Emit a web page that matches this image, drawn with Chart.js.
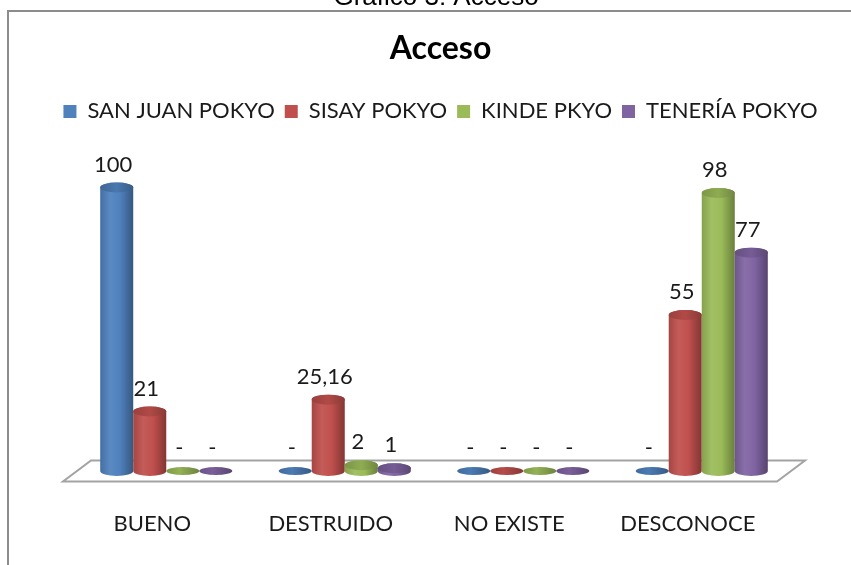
<!DOCTYPE html>
<html>
<head>
<meta charset="utf-8">
<script src="https://cdn.jsdelivr.net/npm/chart.js@4/dist/chart.umd.min.js"></script>
<style>
html,body{margin:0;padding:0;background:#fff;}
canvas{display:block;}
</style>
</head>
<body>
<canvas id="c" width="851" height="565"></canvas>
<script>
// ---- data ----
const categories = ['BUENO', 'DESTRUIDO', 'NO EXISTE', 'DESCONOCE'];
const seriesNames = ['SAN JUAN POKYO', 'SISAY POKYO', 'KINDE PKYO', 'TENERÍA POKYO'];
const sanJuanPokyo = [100, 0, 0, 0];
const sisayPokyo = [21, 25.16, 0, 55];
const kindePkyo = [0, 2, 0, 98];
const teneriaPokyo = [0, 1, 0, 77];
const chartTitle = 'Acceso';
const captionText = 'Gráfico 3: Acceso';

// ---- styles ----
const palette = ['#4F81BD', '#C0504D', '#9BBB59', '#8064A2'];
const FONT = 'Lato';
const DEPTH_X = 14, DEPTH_Y = 10.5;

function shade(hex, f) {
  const n = parseInt(hex.slice(1), 16);
  let r = n >> 16, g = (n >> 8) & 255, b = n & 255;
  if (f < 0) { r *= 1 + f; g *= 1 + f; b *= 1 + f; }
  else { r += (255 - r) * f; g += (255 - g) * f; b += (255 - b) * f; }
  return 'rgb(' + Math.round(r) + ',' + Math.round(g) + ',' + Math.round(b) + ')';
}

function drawCylinder(ctx, cx, top, base, rx, color) {
  const h = base - top;
  const ry = 5;
  if (h < 0.5) {
    const g0 = ctx.createLinearGradient(cx - rx, 0, cx + rx, 0);
    g0.addColorStop(0, shade(color, -0.18));
    g0.addColorStop(0.4, shade(color, -0.05));
    g0.addColorStop(1, shade(color, -0.3));
    ctx.fillStyle = g0;
    ctx.beginPath();
    ctx.ellipse(cx, base, rx, 4, 0, 0, Math.PI * 2);
    ctx.fill();
    return;
  }
  const g = ctx.createLinearGradient(cx - rx, 0, cx + rx, 0);
  g.addColorStop(0, shade(color, -0.14));
  g.addColorStop(0.3, shade(color, 0.07));
  g.addColorStop(0.6, color);
  g.addColorStop(1, shade(color, -0.32));
  ctx.fillStyle = g;
  ctx.beginPath();
  ctx.moveTo(cx - rx, top);
  ctx.lineTo(cx - rx, base);
  ctx.ellipse(cx, base, rx, ry, 0, Math.PI, 0, true);
  ctx.lineTo(cx + rx, top);
  ctx.ellipse(cx, top, rx, ry, 0, 0, Math.PI, true);
  ctx.closePath();
  ctx.fill();
  const gt = ctx.createLinearGradient(cx - rx, 0, cx + rx, 0);
  gt.addColorStop(0, shade(color, -0.2));
  gt.addColorStop(0.5, shade(color, -0.08));
  gt.addColorStop(1, shade(color, -0.28));
  ctx.fillStyle = gt;
  ctx.beginPath();
  ctx.ellipse(cx, top, rx, ry, 0, 0, Math.PI * 2);
  ctx.fill();
}

function fmt(v) {
  if (v === 0) return '-';
  return String(v).replace('.', ',');
}

const decorPlugin = {
  id: 'decor',
  beforeDraw(chart) {
    const ctx = chart.ctx;
    ctx.save();
    // frame
    ctx.fillStyle = '#8c8c8c';
    ctx.fillRect(7, 10, 2, 555);
    ctx.fillRect(7, 10, 844, 2);
    // caption (cut off at top)
    ctx.fillStyle = '#000';
    ctx.font = '26px "Liberation Sans", Arial, sans-serif';
    ctx.textAlign = 'center';
    ctx.textBaseline = 'alphabetic';
    ctx.fillText(captionText, 436, 5);
    ctx.restore();
  },
  beforeDatasetsDraw(chart) {
    const ctx = chart.ctx;
    const area = chart.chartArea;
    const base = chart.scales.y.getPixelForValue(0);
    ctx.save();
    // floor
    ctx.beginPath();
    ctx.moveTo(area.left - DEPTH_X, base + DEPTH_Y);
    ctx.lineTo(area.right - DEPTH_X, base + DEPTH_Y);
    ctx.lineTo(area.right + DEPTH_X, base - DEPTH_Y);
    ctx.lineTo(area.left + DEPTH_X, base - DEPTH_Y);
    ctx.closePath();
    ctx.fillStyle = '#ffffff';
    ctx.fill();
    ctx.strokeStyle = '#a3a3a3';
    ctx.lineWidth = 2;
    ctx.stroke();
    // cylinders
    const n = chart.data.labels.length;
    for (let i = 0; i < n; i++) {
      chart.data.datasets.forEach((ds, di) => {
        const el = chart.getDatasetMeta(di).data[i];
        drawCylinder(ctx, el.x, el.y, el.base, el.width / 2, ds.backgroundColor);
      });
    }
    // data labels
    ctx.fillStyle = '#1a1a1a';
    ctx.font = '22px ' + FONT;
    ctx.textAlign = 'center';
    ctx.textBaseline = 'middle';
    chart.data.datasets.forEach((ds, di) => {
      chart.getDatasetMeta(di).data.forEach((el, i) => {
        ctx.fillText(fmt(ds.data[i]), el.x - 3.5, el.y - 23);
      });
    });
    ctx.restore();
    return false;
  }
};

const seriesData = [sanJuanPokyo, sisayPokyo, kindePkyo, teneriaPokyo];

new Chart(document.getElementById('c'), {
  type: 'bar',
  data: {
    labels: categories,
    datasets: seriesNames.map((name, i) => ({
      label: name,
      data: seriesData[i],
      backgroundColor: palette[i],
      borderWidth: 0,
      categoryPercentage: 0.74,
      barPercentage: 1
    }))
  },
  options: {
    responsive: false,
    animation: false,
    devicePixelRatio: 1,
    layout: { padding: { left: 30, right: 0, top: 29, bottom: 14 } },
    plugins: {
      title: {
        display: true, text: chartTitle, color: '#000',
        font: { family: FONT, size: 32, weight: 'bold' },
        padding: { top: 0, bottom: 23 }
      },
      legend: {
        display: true, position: 'top',
        labels: {
          boxWidth: 13, boxHeight: 13, padding: 10, color: '#1a1a1a',
          font: { family: FONT, size: 22 }
        }
      },
      tooltip: { enabled: false }
    },
    scales: {
      x: {
        grid: { display: false, drawTicks: false },
        border: { display: false },
        ticks: { padding: 40, labelOffset: -DEPTH_X, color: '#1a1a1a', font: { family: FONT, size: 22 } },
        afterFit(scale) { scale.height = 80; }
      },
      y: {
        position: 'left', min: 0, max: 119.4,
        grid: { display: false, drawTicks: false },
        border: { display: false },
        ticks: { display: false },
        afterFit(scale) { scale.width = 47; }
      },
      y2: {
        position: 'right', min: 0, max: 119.4,
        grid: { display: false, drawTicks: false },
        border: { display: false },
        ticks: { display: false },
        afterFit(scale) { scale.width = 60; }
      }
    }
  },
  plugins: [decorPlugin]
});
</script>
</body>
</html>
